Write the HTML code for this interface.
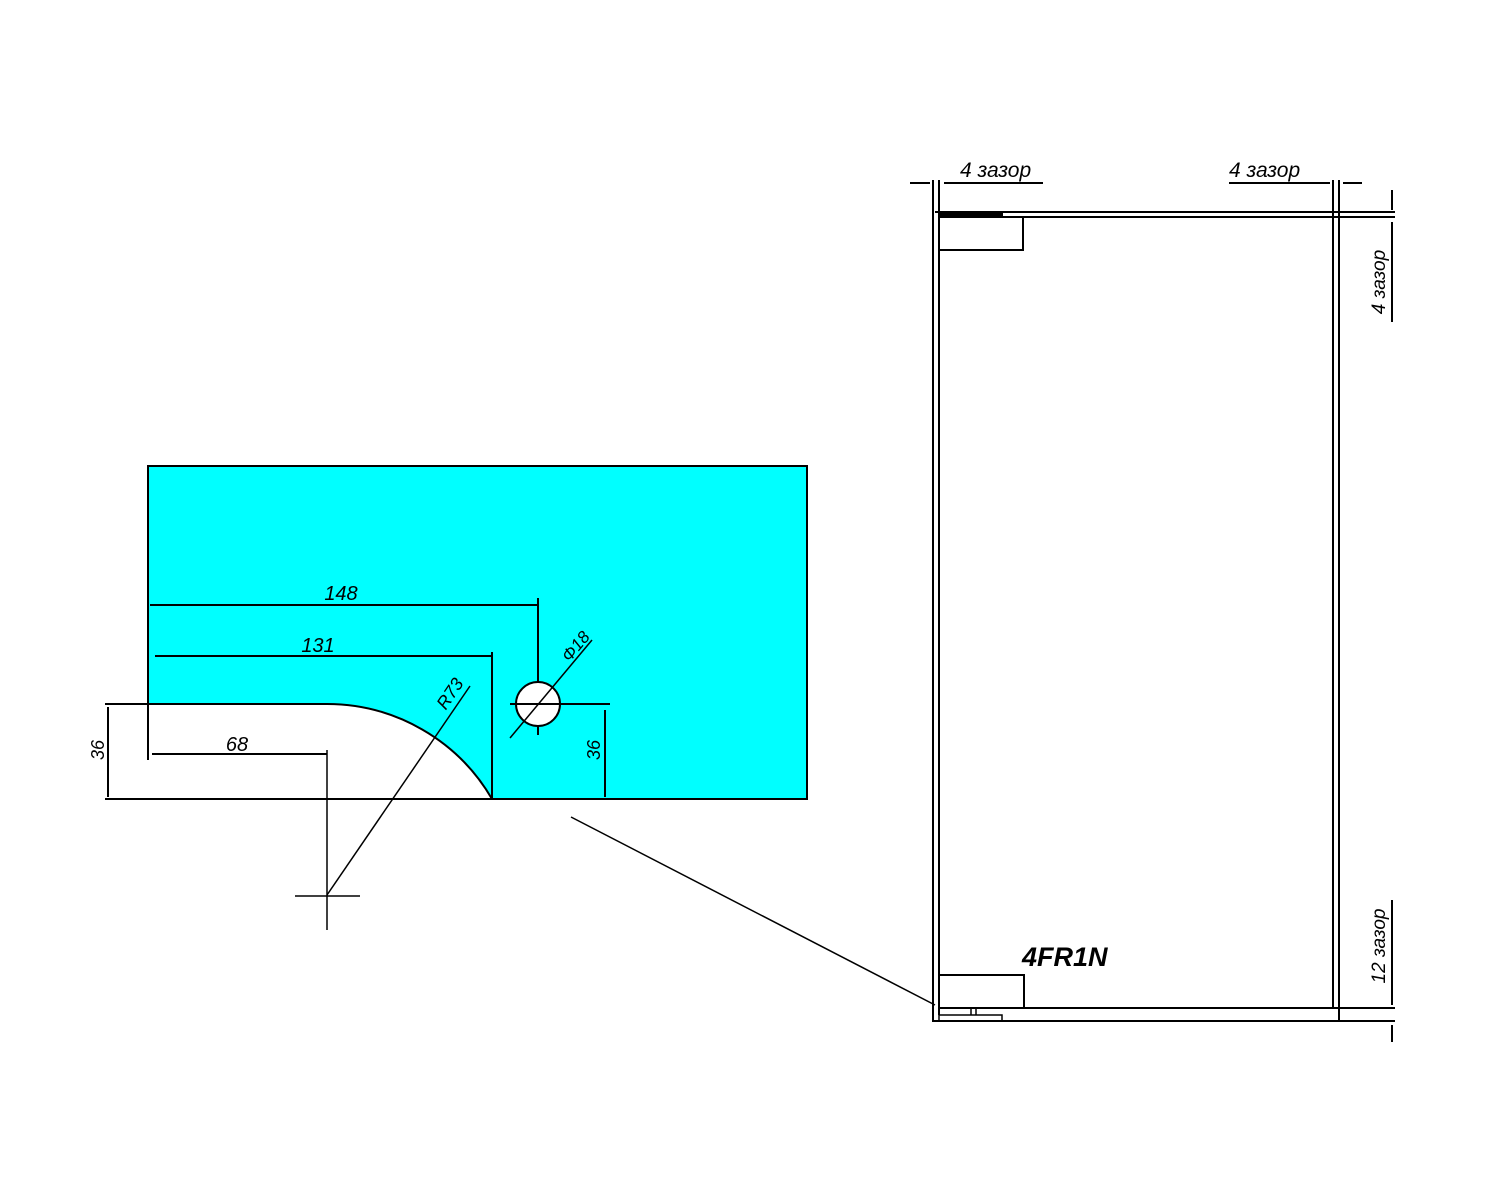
<!DOCTYPE html>
<html><head><meta charset="utf-8"><style>
html,body{margin:0;padding:0;background:#fff;}
svg{display:block;}
text{font-family:"Liberation Sans","DejaVu Sans",sans-serif;font-style:italic;fill:#000;}
</style></head><body>
<svg width="1500" height="1200" viewBox="0 0 1500 1200" xmlns="http://www.w3.org/2000/svg">
<rect width="1500" height="1200" fill="#fff"/>
<!-- cyan panel with cutout -->
<path d="M148,466 H807 V799 H492 A191,191 0 0 0 327,704 H148 Z" fill="#00ffff" stroke="#000" stroke-width="2"/>
<g stroke="#000" stroke-width="2" fill="none">
<line x1="105" y1="704" x2="148" y2="704"/>
<line x1="105" y1="799" x2="492" y2="799"/>
<line x1="148" y1="704" x2="148" y2="760"/>
<!-- 148 -->
<line x1="150" y1="605" x2="538" y2="605"/>
<line x1="538" y1="598" x2="538" y2="735"/>
<!-- 131 -->
<line x1="155" y1="656" x2="492" y2="656"/>
<line x1="492" y1="652" x2="492" y2="799"/>
<!-- 68 -->
<line x1="152" y1="754" x2="327" y2="754"/>
<line x1="327" y1="750" x2="327" y2="930" stroke-width="1.5"/>
<line x1="295" y1="896" x2="360" y2="896" stroke-width="1.5"/>
<!-- R73 -->
<line x1="327" y1="895" x2="470" y2="686" stroke-width="1.5"/>
<!-- 36 left -->
<line x1="108" y1="707" x2="108" y2="797"/>
<!-- hole -->
<circle cx="538" cy="704" r="22" fill="#fff"/>
<line x1="510" y1="704" x2="610" y2="704"/>
<line x1="510" y1="738" x2="592" y2="640" stroke-width="1.5"/>
<line x1="605" y1="710" x2="605" y2="797"/>
<!-- leader -->
<line x1="571" y1="817" x2="935" y2="1005" stroke-width="1.5"/>
<!-- right frame -->
<line x1="933" y1="180" x2="933" y2="1022"/>
<line x1="939" y1="180" x2="939" y2="1015"/>
<line x1="1333" y1="180" x2="1333" y2="1008"/>
<line x1="1339" y1="180" x2="1339" y2="1022"/>
<line x1="935" y1="212" x2="1395" y2="212"/>
<line x1="939" y1="217" x2="1395" y2="217"/>
<rect x="939" y="217" width="84" height="33"/>
<rect x="939" y="975" width="85" height="33"/>
<line x1="939" y1="1008" x2="1395" y2="1008"/>
<line x1="932" y1="1021" x2="1395" y2="1021"/>
<rect x="939" y="1015" width="63" height="6" stroke-width="1.5"/>
<line x1="971" y1="1008" x2="971" y2="1015" stroke-width="1.5"/>
<line x1="976" y1="1008" x2="976" y2="1015" stroke-width="1.5"/>
<!-- top dims -->
<line x1="910" y1="183" x2="930" y2="183"/>
<line x1="944" y1="183" x2="1043" y2="183"/>
<line x1="1229" y1="183" x2="1330" y2="183"/>
<line x1="1343" y1="183" x2="1362" y2="183"/>
<line x1="1392" y1="190" x2="1392" y2="210"/>
<line x1="1392" y1="222" x2="1392" y2="322"/>
<line x1="1392" y1="900" x2="1392" y2="1005"/>
<line x1="1392" y1="1025" x2="1392" y2="1042"/>
</g>
<rect x="939" y="212" width="64" height="5" fill="#000"/>
<g font-size="20">
<text x="341" y="600" text-anchor="middle">148</text>
<text x="318" y="652" text-anchor="middle">131</text>
<text x="237" y="751" text-anchor="middle">68</text>
<text transform="translate(104,750) rotate(-90)" text-anchor="middle" font-size="18">36</text>
<text transform="translate(600,750) rotate(-90)" text-anchor="middle" font-size="18">36</text>
<text transform="translate(455,697) rotate(-56)" text-anchor="middle" font-size="18">R73</text>
<text transform="translate(580,650) rotate(-50)" text-anchor="middle" font-size="17">Φ18</text>
<text x="960" y="177" font-size="21">4 зазор</text>
<text x="1229" y="177" font-size="21">4 зазор</text>
<text transform="translate(1385,282) rotate(-90)" text-anchor="middle" font-size="19">4 зазор</text>
<text transform="translate(1385,946) rotate(-90)" text-anchor="middle" font-size="19">12 зазор</text>
<text x="1022" y="966" font-size="27" font-weight="bold">4FR1N</text>
</g>
</svg>
</body></html>
